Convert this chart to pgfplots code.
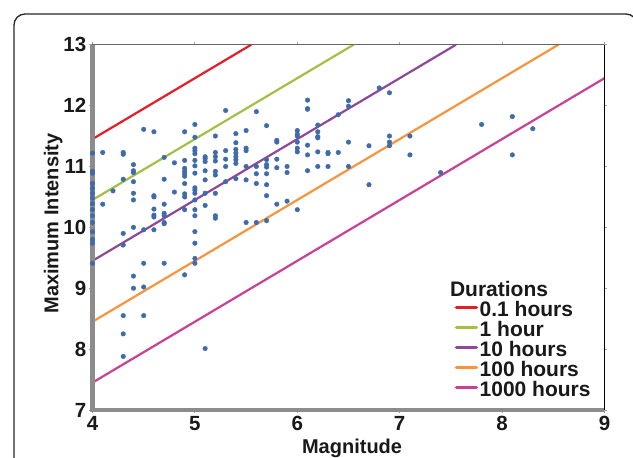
\documentclass[border=0pt]{standalone}
\usepackage{pgfplots}
\usepackage{pgfplotstable}
\pgfplotsset{compat=1.18}
\usepackage{fontspec}
\setmainfont{Liberation Sans}

\definecolor{durRed}{HTML}{E41E26}
\definecolor{durGreen}{HTML}{A3C044}
\definecolor{durPurple}{HTML}{8E4898}
\definecolor{durOrange}{HTML}{F7943E}
\definecolor{durPink}{HTML}{C84196}
\definecolor{ptBlue}{HTML}{3F6BAA}
\definecolor{axisGray}{HTML}{8C8C8C}

% magnitude vs maximum intensity
\pgfplotstableread{
x y
4.0 11.22
4.0 10.92
4.0 10.89
4.0 10.72
4.0 10.64
4.0 10.56
4.0 10.48
4.0 10.39
4.0 10.29
4.0 10.19
4.0 10.08
4.0 9.93
4.0 9.80
4.0 9.74
4.0 9.41
4.1 11.23
4.1 10.38
4.2 10.60
4.3 11.23
4.3 11.20
4.3 10.79
4.3 9.90
4.3 9.71
4.3 8.55
4.3 8.25
4.3 7.88
4.4 11.03
4.4 10.93
4.4 10.90
4.4 10.75
4.4 10.56
4.4 10.45
4.4 10.00
4.4 9.20
4.4 9.00
4.5 11.61
4.5 9.96
4.5 9.41
4.5 9.02
4.5 8.55
4.6 11.57
4.6 10.52
4.6 10.50
4.6 10.30
4.6 10.20
4.6 10.17
4.6 9.96
4.7 11.15
4.7 10.79
4.7 10.38
4.7 10.23
4.7 10.19
4.7 10.08
4.7 10.06
4.7 9.41
4.8 11.06
4.8 10.58
4.9 11.57
4.9 11.10
4.9 10.97
4.9 10.92
4.9 10.88
4.9 10.84
4.9 10.72
4.9 10.55
4.9 10.50
4.9 10.29
4.9 9.22
5.0 11.69
5.0 11.48
5.0 11.30
5.0 11.26
5.0 11.21
5.0 11.10
5.0 11.01
5.0 10.89
5.0 10.65
5.0 10.61
5.0 10.56
5.0 10.45
5.0 10.29
5.0 10.19
5.0 9.93
5.0 9.74
5.0 9.49
5.0 9.41
5.1 11.16
5.1 11.13
5.1 11.08
5.1 10.93
5.1 10.78
5.1 10.56
5.1 10.36
5.1 8.01
5.2 11.50
5.2 11.23
5.2 11.16
5.2 11.09
5.2 10.92
5.2 10.86
5.2 10.56
5.2 10.19
5.2 10.15
5.3 11.92
5.3 11.26
5.3 11.12
5.3 11.00
5.3 10.75
5.4 11.54
5.4 11.39
5.4 11.28
5.4 11.22
5.4 11.16
5.4 11.11
5.4 11.05
5.4 10.80
5.5 11.59
5.5 11.30
5.5 11.26
5.5 11.00
5.5 10.78
5.5 10.08
5.6 11.90
5.6 11.00
5.6 10.88
5.6 10.72
5.6 10.08
5.7 11.67
5.7 11.11
5.7 11.03
5.7 10.99
5.7 10.88
5.7 10.70
5.7 10.52
5.7 10.11
5.8 11.43
5.8 11.40
5.8 11.12
5.8 10.98
5.8 10.38
5.9 11.00
5.9 10.90
5.9 10.43
6.0 11.59
6.0 11.53
6.0 11.50
6.0 11.40
6.0 11.30
6.0 11.24
6.0 10.29
6.1 12.09
6.1 11.95
6.1 11.94
6.1 11.35
6.1 11.19
6.1 10.93
6.2 11.68
6.2 11.57
6.2 11.49
6.2 11.47
6.2 11.24
6.2 11.00
6.3 11.23
6.3 11.21
6.3 11.00
6.4 11.85
6.4 11.23
6.5 12.08
6.5 11.99
6.5 11.40
6.5 11.00
6.7 11.34
6.7 10.70
6.8 12.29
6.9 12.21
6.9 11.50
6.9 11.40
6.9 11.34
7.1 11.50
7.1 11.19
7.4 10.90
7.8 11.69
8.1 11.82
8.1 11.19
8.3 11.62
}\quakes

\begin{document}
\begin{tikzpicture}[x=1pt,y=1pt]
\begin{axis}[
    at={(92.5pt,48pt)}, anchor=south west,
    scale only axis, width=512pt, height=365.3pt,
    xmin=4, xmax=9, ymin=7, ymax=13,
    xtick={4,5,...,9}, ytick={7,8,...,13},
    axis line style={draw=none},
    clip=false,
    tick align=outside, major tick length=3pt,
    tick style={color=black!35, line width=0.8pt},
    ticklabel style={font=\fontsize{20.5}{20.5}\selectfont\bfseries, inner sep=3pt, text=black!90},
    /pgf/number format/assume math mode=true,
    xlabel={Magnitude}, ylabel={Maximum Intensity},
    label style={font=\fontsize{20}{20}\selectfont\bfseries, text=black!90},
    xlabel style={at={(axis description cs:0.507,-0.1196)}, anchor=base},
    ylabel style={at={(axis description cs:-0.0668,0.5105)}, anchor=base},
    legend cell align=left,
    legend style={at={(0.707,0.2965)}, anchor=north west, draw=none, fill=none,
        inner sep=0pt, row sep=0pt, font=\fontsize{21}{21}\selectfont\bfseries,
        text=black!90,
        nodes={inner xsep=1.5pt, inner ysep=0pt, text height=15pt, text depth=5pt}},
    legend image code/.code={\draw[#1, line width=3.5pt, line cap=round] (1pt,4.4pt) -- (21pt,4.4pt);},
]
\addplot[only marks, color=ptBlue, mark=*, mark size=2.3pt, mark options={solid, fill=ptBlue, draw=ptBlue}, forget plot] table {\quakes};

\addplot[durRed, line width=2.2pt] coordinates {(4,11.45) (5.55,13)};
\addlegendentry{0.1 hours}
\addplot[durGreen, line width=2.2pt] coordinates {(4,10.45) (6.55,13)};
\addlegendentry{1 hour}
\addplot[durPurple, line width=2.2pt] coordinates {(4,9.45) (7.55,13)};
\addlegendentry{10 hours}
\addplot[durOrange, line width=2.2pt] coordinates {(4,8.45) (8.55,13)};
\addlegendentry{100 hours}
\addplot[durPink, line width=2.2pt] coordinates {(4,7.45) (9,12.45)};
\addlegendentry{1000 hours}

\draw[black!60, line width=1.2pt] (rel axis cs:0,1) -- (rel axis cs:1,1);
\draw[black, line width=1.2pt] (rel axis cs:1,1) -- (rel axis cs:1,0);
\draw[axisGray, line width=4.2pt] (rel axis cs:0,1) -- (rel axis cs:0,0) -- (rel axis cs:1,0);

\node[anchor=base west, inner sep=0pt, font=\fontsize{21}{21}\selectfont\bfseries, text=black!90]
    at (axis description cs:0.698,0.310) {Durations};
\end{axis}
\draw[black!85, line width=1.3pt, rounded corners=11pt] (14,-30) -- (14,444) -- (637,444) -- (637,-30);
\pgfresetboundingbox
\useasboundingbox (0,0) rectangle (633,458);
\end{tikzpicture}
\end{document}
